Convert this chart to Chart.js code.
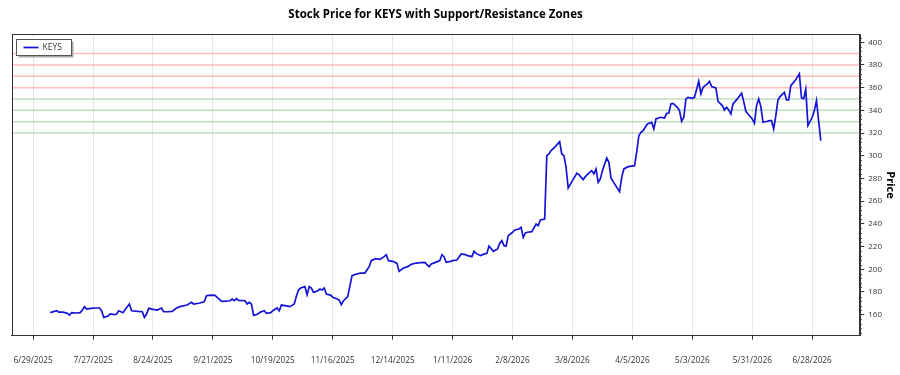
<!DOCTYPE html>
<html><head><meta charset="utf-8">
<script src="https://cdn.jsdelivr.net/npm/chart.js@4.4.1/dist/chart.umd.min.js"></script>
<style>html,body{margin:0;padding:0;background:#fff;}</style>
</head><body>
<canvas id="c" width="900" height="375" style="width:900px;height:375px;display:block"></canvas>
<script>
const TITLE = 'Stock Price for KEYS with Support/Resistance Zones';
const SERIES_LABEL = 'KEYS';
const Y_TITLE = 'Price';

const dates = [
'2025-07-07','2025-07-10','2025-07-11','2025-07-13','2025-07-15','2025-07-16','2025-07-17','2025-07-19','2025-07-21','2025-07-22',
'2025-07-23','2025-07-24','2025-07-26','2025-07-28','2025-07-30','2025-07-31','2025-08-01','2025-08-03','2025-08-04','2025-08-06',
'2025-08-07','2025-08-08','2025-08-10','2025-08-11','2025-08-13','2025-08-14','2025-08-17','2025-08-19','2025-08-20','2025-08-21',
'2025-08-22','2025-08-24','2025-08-26','2025-08-28','2025-08-29','2025-08-31','2025-09-02','2025-09-04','2025-09-06','2025-09-09',
'2025-09-11','2025-09-12','2025-09-15','2025-09-17','2025-09-18','2025-09-20','2025-09-22','2025-09-23','2025-09-25','2025-09-26',
'2025-09-29','2025-09-30','2025-10-01','2025-10-02','2025-10-03','2025-10-06','2025-10-07','2025-10-08','2025-10-09','2025-10-10',
'2025-10-12','2025-10-13','2025-10-15','2025-10-16','2025-10-18','2025-10-19','2025-10-21','2025-10-22','2025-10-23','2025-10-26',
'2025-10-27','2025-10-29','2025-10-30','2025-10-31','2025-11-01','2025-11-03','2025-11-04','2025-11-05','2025-11-06','2025-11-07',
'2025-11-09','2025-11-10','2025-11-11','2025-11-12','2025-11-13','2025-11-15','2025-11-16','2025-11-18','2025-11-19','2025-11-20',
'2025-11-21','2025-11-23','2025-11-25','2025-11-27','2025-11-29','2025-12-01','2025-12-03','2025-12-04','2025-12-06','2025-12-08',
'2025-12-10','2025-12-11','2025-12-12','2025-12-14','2025-12-16','2025-12-17','2025-12-19','2025-12-21','2025-12-22','2025-12-23',
'2025-12-25','2025-12-27','2025-12-29','2025-12-31','2026-01-01','2026-01-03','2026-01-05','2026-01-06','2026-01-07','2026-01-08',
'2026-01-10','2026-01-11','2026-01-13','2026-01-15','2026-01-17','2026-01-18','2026-01-20','2026-01-21','2026-01-22','2026-01-24',
'2026-01-25','2026-01-27','2026-01-28','2026-01-30','2026-02-01','2026-02-02','2026-02-03','2026-02-04','2026-02-05','2026-02-06',
'2026-02-08','2026-02-09','2026-02-11','2026-02-12','2026-02-13','2026-02-14','2026-02-15','2026-02-17','2026-02-19','2026-02-20',
'2026-02-21','2026-02-23','2026-02-24','2026-02-25','2026-02-26','2026-02-28','2026-03-02','2026-03-03','2026-03-04','2026-03-05',
'2026-03-06','2026-03-08','2026-03-10','2026-03-11','2026-03-13','2026-03-14','2026-03-16','2026-03-17','2026-03-18','2026-03-19',
'2026-03-20','2026-03-21','2026-03-22','2026-03-24','2026-03-25','2026-03-26','2026-03-27','2026-03-30','2026-03-31','2026-04-01',
'2026-04-03','2026-04-06','2026-04-07','2026-04-08','2026-04-09','2026-04-10','2026-04-12','2026-04-14','2026-04-15','2026-04-16',
'2026-04-18','2026-04-20','2026-04-21','2026-04-22','2026-04-23','2026-04-24','2026-04-26','2026-04-27','2026-04-28','2026-04-29',
'2026-04-30','2026-05-01','2026-05-03','2026-05-04','2026-05-06','2026-05-07','2026-05-08','2026-05-10','2026-05-11','2026-05-12',
'2026-05-14','2026-05-15','2026-05-17','2026-05-18','2026-05-19','2026-05-20','2026-05-21','2026-05-22','2026-05-24','2026-05-26',
'2026-05-27','2026-05-28','2026-05-29','2026-05-31','2026-06-01','2026-06-02','2026-06-03','2026-06-04','2026-06-05','2026-06-07',
'2026-06-08','2026-06-09','2026-06-10','2026-06-11','2026-06-12','2026-06-13','2026-06-15','2026-06-16','2026-06-17','2026-06-18',
'2026-06-20','2026-06-22','2026-06-23','2026-06-24','2026-06-25','2026-06-26','2026-06-28','2026-06-29','2026-06-30','2026-07-02'
];

const prices = [
161.8,163.5,162.3,162.3,161.2,159.7,161.8,161.5,161.8,164.1,
167.1,165.0,165.6,165.9,165.9,163.5,157.6,158.8,160.6,160.0,
160.6,163.5,161.8,164.5,169.4,163.5,162.9,162.6,157.6,160.6,
165.6,164.7,164.1,165.9,162.6,162.6,162.9,165.9,167.3,168.5,
170.9,169.4,170.3,171.5,176.7,177.3,177.0,175.3,172.0,171.7,
172.3,173.8,172.3,174.1,172.6,172.3,169.4,170.9,169.4,159.4,
160.6,162.1,163.5,161.2,161.8,163.5,165.9,163.5,168.5,167.6,
167.1,169.4,176.2,181.7,183.5,184.7,177.6,184.7,183.5,179.7,
181.1,182.6,181.7,183.5,178.2,177.3,175.3,173.8,172.9,168.8,
172.3,175.9,194.4,195.8,196.7,196.7,202.3,207.6,209.4,208.8,
211.1,212.9,207.6,207.0,205.2,198.2,201.1,202.3,203.5,204.6,
205.5,205.8,206.1,202.3,204.6,206.1,207.6,212.9,211.1,206.1,
207.0,207.6,208.2,213.5,212.9,212.0,211.1,215.8,214.0,212.0,
212.9,214.0,220.5,215.8,217.9,222.9,225.2,220.8,220.5,229.6,
232.6,234.6,235.5,237.0,228.1,232.0,232.6,233.2,239.9,238.4,
243.4,244.3,300.1,301.6,304.5,308.1,312.5,301.6,300.1,289.8,
271.6,278.1,284.6,283.4,279.0,281.6,285.4,286.9,284.0,288.4,
276.6,279.6,286.9,298.1,294.2,280.4,277.2,268.4,281.0,288.4,
290.4,291.3,303.1,317.7,320.7,322.2,328.0,329.5,323.6,332.4,
333.9,333.3,337.4,337.7,345.7,346.2,342.7,339.8,330.4,333.9,
350.1,351.5,350.6,351.5,365.6,354.5,360.3,363.3,365.6,360.9,
359.8,348.0,344.2,340.4,342.7,340.4,336.8,345.7,350.1,355.1,
347.7,339.2,336.8,332.4,328.6,344.2,350.1,343.3,329.5,330.4,
331.0,331.0,323.6,335.4,349.2,352.1,355.9,349.2,349.2,361.8,
366.2,372.1,350.9,350.1,358.6,326.6,333.9,339.8,348.6,313.3
];

const resistanceLevels = [360, 370, 380, 390];
const supportLevels = [320, 330, 340, 350];
const xTickLabels = ['6/29/2025','7/27/2025','8/24/2025','9/21/2025','10/19/2025','11/16/2025','12/14/2025',
  '1/11/2026','2/8/2026','3/8/2026','4/5/2026','5/3/2026','5/31/2026','6/28/2026'];
const yTickLabels = ['160','180','200','220','240','260','280','300','320','340','360','380','400'];
const yMinorStep = 4;
const yMin = 141.5, yMax = 407;

function parseISO(s){ const [y,m,d] = s.split('-').map(Number); return Date.UTC(y, m-1, d); }
function parseUS(s){ const [m,d,y] = s.split('/').map(Number); return Date.UTC(y, m-1, d); }

const xs = dates.map(parseISO);
const xTickValues = xTickLabels.map(parseUS);
const yTickValues = yTickLabels.map(Number);
const span = xs[xs.length-1] - xs[0];
const xMin = xs[0] - 0.05*span, xMax = xs[xs.length-1] + 0.05*span;

const priceData = xs.map((x,i) => ({x, y: prices[i]}));
function zone(level, color){
  return {label:'', data:[{x:xMin,y:level},{x:xMax,y:level}], borderColor:color, borderWidth:1.5,
          pointRadius:0, fill:false, tension:0};
}
const datasets = [
  {label: SERIES_LABEL, data: priceData, borderColor:'#1414d8', borderWidth:1.7, pointRadius:0, tension:0, fill:false}
].concat(
  resistanceLevels.map(l => zone(l, 'rgba(255,0,0,0.25)')),
  supportLevels.map(l => zone(l, 'rgba(0,128,0,0.25)'))
);

const FONT = 'Open Sans';
const extras = {
  id:'extras',
  afterDraw(chart){
    const {ctx, chartArea:a} = chart;
    const y = chart.scales.y;
    ctx.save();
    ctx.strokeStyle = '#333'; ctx.lineWidth = 1;
    ctx.beginPath();
    for (let v = Math.ceil(yMin / yMinorStep) * yMinorStep; v <= yMax; v += yMinorStep) {
      if (yTickValues.includes(v)) continue;
      const py = Math.round(y.getPixelForValue(v)) + 0.5;
      ctx.moveTo(a.right, py); ctx.lineTo(a.right + 2.5, py);
    }
    ctx.stroke();
    ctx.strokeStyle = '#333'; ctx.lineWidth = 1;
    ctx.strokeRect(Math.round(a.left)+0.5, Math.round(a.top)+0.5, Math.round(a.right-a.left), Math.round(a.bottom-a.top));
    const ds = chart.data.datasets[0];
    const bx = Math.round(a.left) + 4.5, by = Math.round(a.top) + 5.5, bw = 55, bh = 16;
    ctx.fillStyle = '#a8a8a8';
    ctx.fillRect(bx+2, by+2, bw, bh);
    ctx.fillStyle = '#fff';
    ctx.fillRect(bx, by, bw, bh);
    ctx.strokeStyle = '#555';
    ctx.strokeRect(bx, by, bw, bh);
    ctx.strokeStyle = ds.borderColor; ctx.lineWidth = 1.7;
    ctx.beginPath(); ctx.moveTo(bx+7, by+bh/2); ctx.lineTo(bx+22, by+bh/2); ctx.stroke();
    ctx.fillStyle = '#333'; ctx.font = '8.5px "' + FONT + '"'; ctx.textBaseline = 'middle'; ctx.textAlign = 'left';
    ctx.fillText(ds.label, bx+26, by+bh/2+0.5);
    ctx.restore();
  }
};

new Chart(document.getElementById('c'), {
  type:'line',
  data:{datasets},
  plugins:[extras],
  options:{
    responsive:false, animation:false, devicePixelRatio:1,
    layout:{padding:{left:11.7, right:0, top:0, bottom:0}},
    plugins:{
      legend:{display:false}, tooltip:{enabled:false},
      title:{display:true, fullSize:false, text:TITLE, color:'#000', font:{family:FONT, size:11.5, weight:'bold'}, padding:{top:7.8, bottom:12.7}}
    },
    scales:{
      x:{type:'linear', min:xMin, max:xMax, bounds:'data',
        afterBuildTicks: s => { s.ticks = xTickValues.map(v => ({value:v})); },
        afterFit: s => { s.paddingLeft = 0; s.paddingRight = 0; s.height = 39.3; },
        ticks:{autoSkip:false, maxRotation:0, padding:16, color:'#333', font:{family:FONT, size:8.3},
               callback:(v,i) => xTickLabels[i]},
        grid:{color:'#e6e6e6', lineWidth:1, tickColor:'#333', tickLength:4},
        border:{color:'#333', width:1}
      },
      y:{type:'linear', position:'right', min:yMin, max:yMax, bounds:'data',
        afterBuildTicks: s => { s.ticks = yTickValues.map(v => ({value:v})); },
        afterFit: s => { s.width = 40.7; s.paddingTop = 0; s.paddingBottom = 0; },
        ticks:{autoSkip:false, padding:4, color:'#333', font:{family:FONT, size:8},
               callback:(v,i) => yTickLabels[i]},
        grid:{drawOnChartArea:false, tickColor:'#333', tickLength:5},
        border:{color:'#333', width:1},
        title:{display:true, text:Y_TITLE, color:'#000', font:{family:FONT, size:11, weight:'bold'}, padding:{top:3.4, bottom:0}}
      }
    }
  }
});
</script>
</body></html>
